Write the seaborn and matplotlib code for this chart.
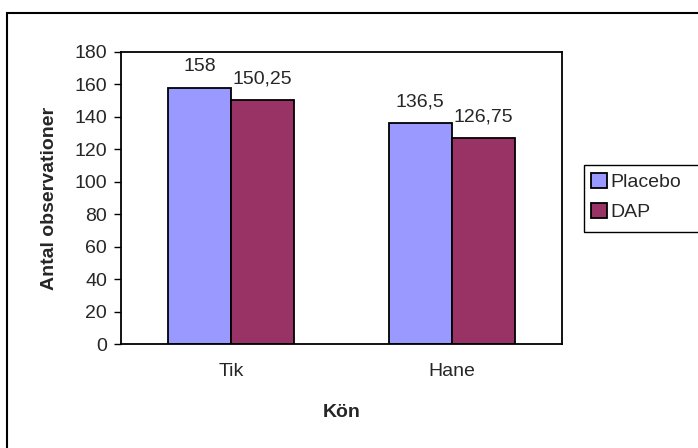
import matplotlib
matplotlib.use("Agg")
import matplotlib.pyplot as plt
from matplotlib.patches import Rectangle, Patch
import seaborn as sns
import pandas as pd

# Mean number of observations per sex and treatment
categories = ["Tik", "Hane"]
series = ["Placebo", "DAP"]
placebo = [158, 136.5]
dap = [150.25, 126.75]
colors = ["#9999FF", "#993366"]
y_ticks = [0, 20, 40, 60, 80, 100, 120, 140, 160, 180]

df = pd.DataFrame({
    "Kön": categories * 2,
    "Grupp": [series[0]] * len(categories) + [series[1]] * len(categories),
    "Antal": placebo + dap,
})

sns.set_style("white")
plt.rcParams["font.family"] = ["Liberation Sans", "DejaVu Sans"]
FS = 14
W, H = 698, 448

fig = plt.figure(figsize=(W / 100, H / 100), dpi=100)
ax = fig.add_axes([121 / W, 1 - 344 / H, 441 / W, 292 / H])

sns.barplot(data=df, x="Kön", y="Antal", hue="Grupp", order=categories,
            hue_order=series, palette=colors, width=0.572, gap=0,
            edgecolor="black", linewidth=1.3, saturation=1, ax=ax,
            legend=False)

def fmt(v):
    return f"{v:g}".replace(".", ",")

for cont in ax.containers:
    ax.bar_label(cont, labels=[fmt(v) for v in cont.datavalues],
                 padding=9, fontsize=FS)

ax.set_xlim(-0.5, 1.5)
ax.set_ylim(0, 180)
ax.set_yticks(y_ticks)
ax.set_yticklabels([str(t) for t in y_ticks], fontsize=FS)
ax.set_xticks([0, 1])
ax.set_xticklabels(categories, fontsize=FS)
ax.set_xticks([-0.5, 0.5, 1.5], minor=True)
ax.tick_params(axis="x", which="major", length=0, pad=14)
ax.tick_params(axis="x", which="minor", length=5, width=1, direction="out",
               color="black")
ax.tick_params(axis="y", length=5, width=1, direction="out", color="black",
               pad=5, left=True)
for s in ax.spines.values():
    s.set_visible(True)
    s.set_color("black")
    s.set_linewidth(1.3)

ax.set_xlabel("Kön", fontsize=FS, fontweight="bold", labelpad=17)
ax.set_ylabel("Antal observationer", fontsize=FS, fontweight="bold",
              labelpad=12)

# Legend entries, with a box that runs off the right edge of the chart
handles = [Patch(facecolor=c, edgecolor="black", linewidth=1.3) for c in colors]
fig.legend(handles, series, loc="center left",
           bbox_to_anchor=(591 / W, 1 - 197 / H),
           frameon=False, fontsize=FS,
           handlelength=0.82, handleheight=0.82, handletextpad=0.2,
           borderpad=0, labelspacing=0.62, borderaxespad=0)
fig.patches.append(Rectangle((584 / W, 1 - 232 / H), 0.2, 67 / H,
                             transform=fig.transFigure, fill=False,
                             edgecolor="black", linewidth=1.0))

# Outer chart border
fig.patches.append(Rectangle((7 / W, -0.1), 1.2, 1 - 13 / H + 0.1,
                             transform=fig.transFigure, fill=False,
                             edgecolor="black", linewidth=1.5))

fig.savefig("out.png", dpi=100, facecolor="white")
